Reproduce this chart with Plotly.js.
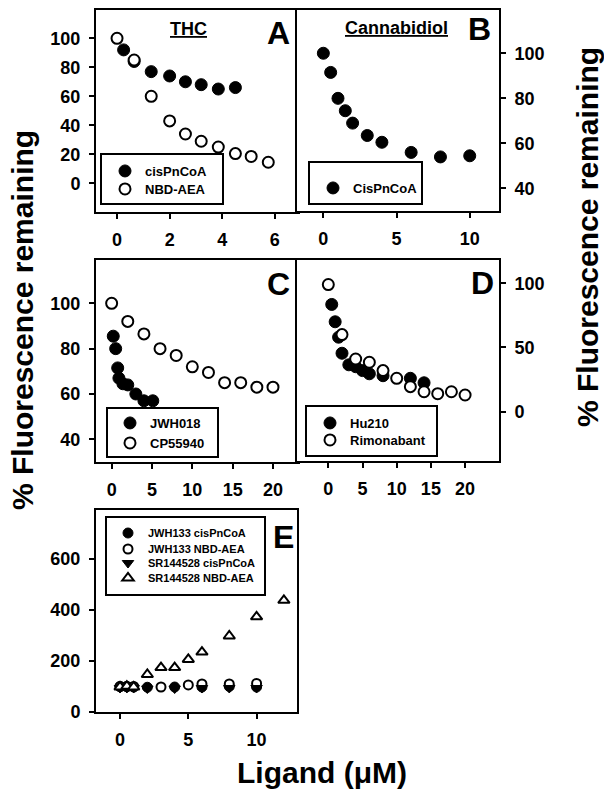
<!DOCTYPE html>
<html>
<head>
<meta charset="utf-8">
<script src="https://cdn.plot.ly/plotly-3.0.1.min.js"></script>
<style>
  body { margin: 0; background: #fff; }
  #plot { width: 604px; height: 798px; }
</style>
</head>
<body>
<div id="plot"></div>
<script>
// Panel A - THC
const thcCisX = [0.25, 0.65, 1.3, 2, 2.6, 3.2, 3.85, 4.5];
const thcCisY = [92, 84, 77, 74, 70, 68, 65, 66];
const thcNbdX = [0, 0.65, 1.3, 2, 2.6, 3.2, 3.85, 4.5, 5.1, 5.75];
const thcNbdY = [100, 85, 60, 43, 34, 29, 25, 20.5, 18.5, 14.5];

// Panel B - Cannabidiol
const cbdX = [0, 0.5, 1, 1.5, 2, 3, 4, 6, 8, 10];
const cbdY = [100, 91.5, 80, 74.5, 69, 63.5, 60.5, 56, 54, 54.5];

// Panel C
const jwh018X = [0.2, 0.5, 0.75, 0.9, 1.4, 2, 3, 4, 5.1];
const jwh018Y = [85.5, 80, 71.5, 67, 64.5, 64, 60, 57, 57];
const cp55940X = [0, 2, 4, 6, 8, 10, 12, 14, 16, 18, 20];
const cp55940Y = [100, 92, 86.5, 80, 77, 72, 69.5, 65, 65, 63, 63];

// Panel D
const hu210X = [0.5, 1, 1.5, 2, 3, 4, 5, 6, 8, 12, 14];
const hu210Y = [83.5, 70, 58, 45.5, 36.5, 35, 32, 29.5, 28, 26, 22.5];
const rimoX = [0, 2, 4, 6, 8, 10, 12, 14, 16, 18, 20];
const rimoY = [99, 60, 41, 38.5, 32, 26, 19.5, 15.5, 14, 15.5, 13];

// Panel E
const jwhCisX = [0, 0.5, 1, 2, 4, 6, 8, 10];
const jwhCisY = [100, 100, 98, 97, 98, 98, 100, 98];
const jwhNbdX = [0, 0.5, 1, 3, 5, 6, 8, 10];
const jwhNbdY = [100, 100, 100, 98, 106, 110, 110, 112];
const srCisX = [0, 0.5, 1, 2, 4, 6, 8, 10];
const srCisY = [94, 94, 94, 92, 92, 94, 94, 94];
const srNbdX = [0, 0.5, 1, 2, 3, 4, 5, 6, 8, 10, 12];
const srNbdY = [98, 101, 98, 147, 174, 174, 206, 235, 298, 373, 438];

// tick values
const ticksA_x = [0, 2, 4, 6];
const ticksA_y = [0, 20, 40, 60, 80, 100];
const ticksB_x = [0, 5, 10];
const ticksB_y = [40, 60, 80, 100];
const ticksC_x = [0, 5, 10, 15, 20];
const ticksC_y = [40, 60, 80, 100];
const ticksD_x = [0, 5, 10, 15, 20];
const ticksD_y = [0, 50, 100];
const ticksE_x = [0, 5, 10];
const ticksE_y = [0, 200, 400, 600];

const W = 604, H = 798;
const px = (v) => v / W;          // pixel -> paper x
const py = (v) => 1 - v / H;      // pixel -> paper y
const FONT = "Liberation Sans, Arial, sans-serif";

const filled = (size) => ({ symbol: "circle", size: size, color: "black", line: { color: "black", width: 1 } });
const open = (size) => ({ symbol: "circle", size: size, color: "white", line: { color: "black", width: 2 } });

function pts(x, y, name, marker, xa, ya, legend) {
  return { x: x, y: y, name: name, type: "scatter", mode: "markers", marker: marker,
           xaxis: xa, yaxis: ya, legend: legend, cliponaxis: false };
}

const traces = [
  pts(thcCisX, thcCisY, "cisPnCoA", filled(12), "x", "y", "legend"),
  pts(thcNbdX, thcNbdY, "NBD-AEA", open(11), "x", "y", "legend2"),
  pts(cbdX, cbdY, "CisPnCoA", filled(12), "x2", "y2", "legend3"),
  pts(jwh018X, jwh018Y, "JWH018", filled(12), "x3", "y3", "legend4"),
  pts(cp55940X, cp55940Y, "CP55940", open(11), "x3", "y3", "legend5"),
  pts(hu210X, hu210Y, "Hu210", filled(12), "x4", "y4", "legend6"),
  pts(rimoX, rimoY, "Rimonabant", open(11), "x4", "y4", "legend7"),
  pts(jwhCisX, jwhCisY, "JWH133 cisPnCoA", filled(10), "x5", "y5", "legend8"),
  pts(jwhNbdX, jwhNbdY, "JWH133 NBD-AEA", open(9), "x5", "y5", "legend9"),
  pts(srCisX, srCisY, "SR144528 cisPnCoA",
      { symbol: "triangle-down", size: 10, color: "black", line: { color: "black", width: 1 } }, "x5", "y5", "legend10"),
  pts(srNbdX, srNbdY, "SR144528 NBD-AEA",
      { symbol: "triangle-up", size: 10, color: "white", line: { color: "black", width: 2 } }, "x5", "y5", "legend11"),
];

const tickFont = { family: FONT, size: 18, color: "black", weight: "bold" };

function axis(domain, range, tickvals, extra) {
  return Object.assign({
    domain: domain, range: range, tickvals: tickvals, ticktext: tickvals.map(String),
    showline: true, linecolor: "black", linewidth: 2, mirror: true,
    ticks: "outside", ticklen: 5, tickwidth: 2, tickcolor: "black",
    showgrid: false, zeroline: false, fixedrange: true,
    tickfont: tickFont, ticklabelstandoff: 5,
  }, extra || {});
}

// legend entry placed by pixel coordinates of the symbol
function leg(xSym, yc, size) {
  return {
    x: px(xSym - 20), y: py(yc), xanchor: "left", yanchor: "middle",
    bgcolor: "rgba(0,0,0,0)", borderwidth: 0,
    font: { family: FONT, size: size, color: "black", weight: "bold" },
    itemclick: false, itemdoubleclick: false,
  };
}

function box(x0, y0, x1, y1) {
  return { type: "rect", xref: "paper", yref: "paper",
           x0: px(x0), x1: px(x1), y0: py(y0), y1: py(y1),
           line: { color: "black", width: 2 }, fillcolor: "rgba(0,0,0,0)" };
}

function label(x, y, text, size, angle) {
  return { xref: "paper", yref: "paper", x: px(x), y: py(y), text: text, showarrow: false,
           xanchor: "center", yanchor: "middle", textangle: angle || 0,
           font: { family: FONT, size: size, color: "black", weight: "bold" } };
}

const layout = {
  width: W, height: H,
  margin: { l: 0, r: 0, t: 0, b: 0 },
  paper_bgcolor: "white", plot_bgcolor: "white",
  showlegend: true,

  xaxis: axis([px(96), px(298)], [-0.8, 6.88], ticksA_x, { anchor: "y" }),
  yaxis: axis([py(212), py(10)], [-19.8, 119.5], ticksA_y, { anchor: "x" }),
  xaxis2: axis([px(297), px(499)], [-1.8, 12], ticksB_x, { anchor: "y2" }),
  yaxis2: axis([py(211), py(10)], [30, 119.2], ticksB_y, { anchor: "x2", side: "right" }),
  xaxis3: axis([px(96), px(298)], [-1.94, 23.1], ticksC_x, { anchor: "y3" }),
  yaxis3: axis([py(462), py(260)], [30, 119.1], ticksC_y, { anchor: "x3" }),
  xaxis4: axis([px(297), px(499)], [-4.58, 24.96], ticksD_x, { anchor: "y4" }),
  yaxis4: axis([py(461), py(260)], [-38.4, 118.1], ticksD_y, { anchor: "x4", side: "right" }),
  xaxis5: axis([px(96), px(297)], [-1.76, 12.96], ticksE_x, { anchor: "y5" }),
  yaxis5: axis([py(712), py(510)], [0, 792], ticksE_y, { anchor: "x5" }),

  legend: leg(125, 171, 13),
  legend2: leg(125, 189, 13),
  legend3: leg(333, 188, 13),
  legend4: leg(130, 423, 13),
  legend5: leg(130, 443, 13),
  legend6: leg(330, 423, 13),
  legend7: leg(330, 440, 13),
  legend8: leg(128, 533, 11),
  legend9: leg(128, 549, 11),
  legend10: leg(128, 563, 11),
  legend11: leg(128, 578, 11),

  shapes: [
    box(101, 154, 223, 204),
    box(309, 162, 422, 204),
    box(107, 408, 218, 457),
    box(306, 406, 437, 456),
    box(106, 517, 265, 595),
  ],

  annotations: [
    label(188, 29, "<u>THC</u>", 18),
    label(396, 28, "<u>Cannabidiol</u>", 18),
    label(278, 33, "A", 32),
    label(480, 29, "B", 32),
    label(278, 284, "C", 32),
    label(482, 283, "D", 32),
    label(283, 537, "E", 32),
    label(22, 320, "% Fluorescence remaining", 30, -90),
    label(587, 237, "% Fluorescence remaining", 30, -90),
    label(322, 772, "Ligand (\u03bcM)", 30),
  ],
};

Plotly.newPlot("plot", traces, layout, { displayModeBar: false, staticPlot: true });
</script>
</body>
</html>
